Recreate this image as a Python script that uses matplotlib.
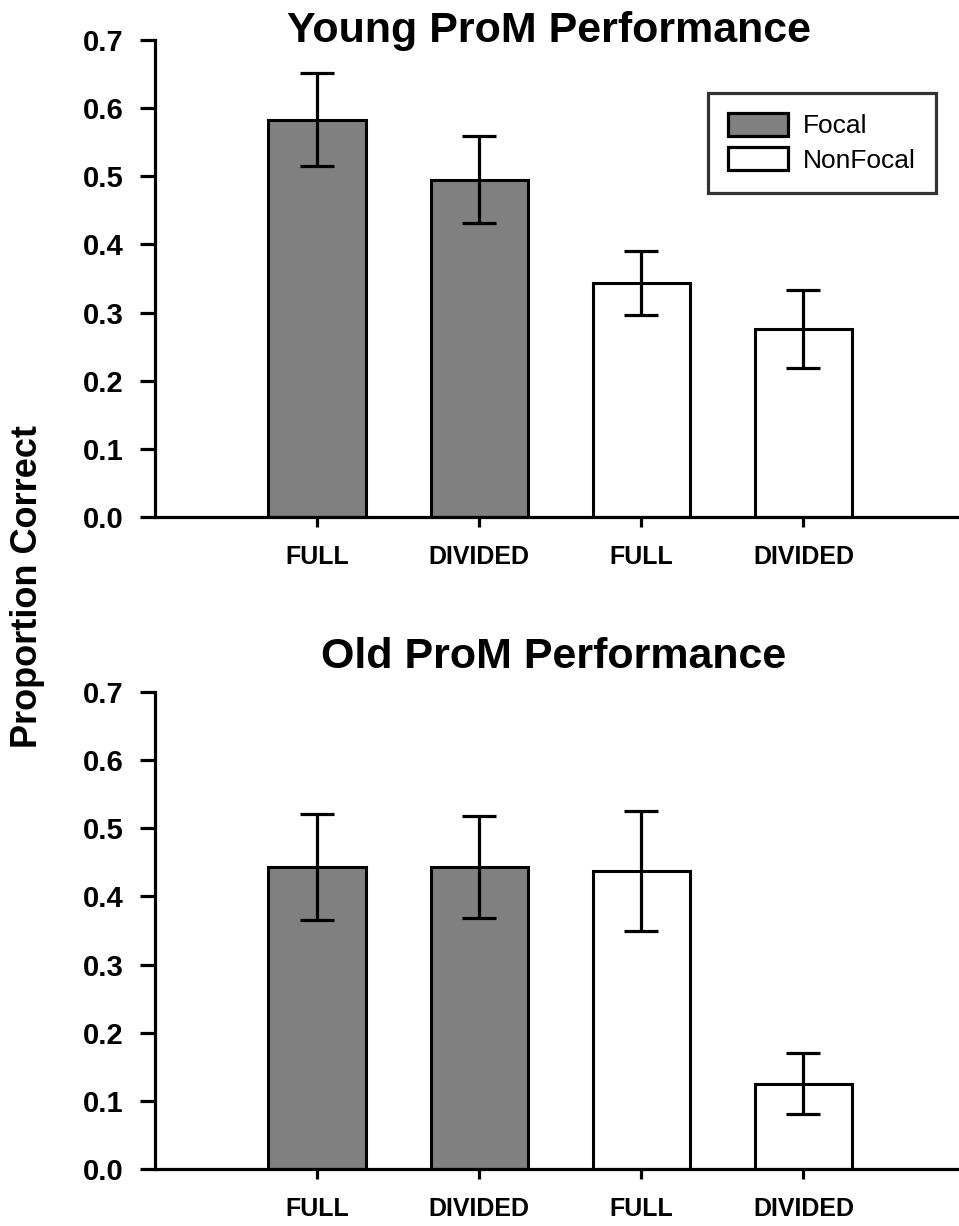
import matplotlib
matplotlib.use("Agg")
import matplotlib.pyplot as plt
import numpy as np
from matplotlib.patches import Patch

plt.rcParams['font.family'] = ['Liberation Sans', 'DejaVu Sans']

conditions = ["FULL", "DIVIDED", "FULL", "DIVIDED"]
groups = ["Focal", "Focal", "NonFocal", "NonFocal"]
young_means = [0.583, 0.495, 0.343, 0.276]
young_errs = [0.068, 0.064, 0.047, 0.057]
old_means = [0.443, 0.443, 0.437, 0.125]
old_errs = [0.078, 0.075, 0.088, 0.045]
yticks = [0.0, 0.1, 0.2, 0.3, 0.4, 0.5, 0.6, 0.7]
group_colors = {"Focal": "#808080", "NonFocal": "#ffffff"}

W, H = 959, 1226
fig = plt.figure(figsize=(W / 100, H / 100), dpi=100)

left = 155 / W
width = 804 / W
height = 477 / H
ax_top = fig.add_axes([left, (H - 517) / H, width, height])
ax_bot = fig.add_axes([left, (H - 1169) / H, width, height])

x = np.arange(1, len(conditions) + 1)
colors = [group_colors[g] for g in groups]

for ax, means, errs in [(ax_top, young_means, young_errs), (ax_bot, old_means, old_errs)]:
    ax.bar(x, means, width=0.6, color=colors, edgecolor='black', linewidth=2.2, zorder=2)
    ax.errorbar(x, means, yerr=errs, fmt='none', ecolor='black', elinewidth=2.3,
                capsize=12, capthick=2.3, zorder=3)
    ax.set_xlim(0, 4.96)
    ax.set_ylim(0, 0.7)
    ax.set_yticks(yticks)
    ax.set_yticklabels([f"{v:.1f}" for v in yticks], fontsize=21, fontweight='bold')
    ax.set_xticks(x)
    ax.set_xticklabels(conditions, fontsize=18, fontweight='bold')
    for s in ['top', 'right']:
        ax.spines[s].set_visible(False)
    for s in ['left', 'bottom']:
        ax.spines[s].set_linewidth(2.3)
    ax.tick_params(axis='y', direction='out', length=10.8, width=2.3, pad=12)
    ax.tick_params(axis='x', direction='out', length=7.5, width=2.3, pad=13)
    ax.patch.set_alpha(0)

fig.text(549 / W, 1 - 42 / H, "Young ProM Performance", fontsize=31, fontweight='bold',
         ha='center', va='baseline')
fig.text(554 / W, 1 - 668 / H, "Old ProM Performance", fontsize=31, fontweight='bold',
         ha='center', va='baseline')
fig.text(28 / W, 1 - 587 / H, "Proportion Correct", fontsize=26, fontweight='bold',
         rotation=90, ha='center', va='center')

handles = [Patch(facecolor=group_colors["Focal"], edgecolor='black', linewidth=2.3, label="Focal"),
           Patch(facecolor=group_colors["NonFocal"], edgecolor='black', linewidth=2.3, label="NonFocal")]
leg = ax_top.legend(handles=handles, loc='upper right', bbox_to_anchor=(936 / W, 1 - 93 / H),
                    bbox_transform=fig.transFigure, borderaxespad=0, fontsize=19,
                    frameon=True, fancybox=False, shadow=False, handlelength=2.27,
                    handleheight=0.95, handletextpad=0.6, borderpad=0.75, labelspacing=0.35)
leg.get_frame().set_edgecolor('black')
leg.get_frame().set_linewidth(2.3)

fig.savefig("out.png", dpi=100)
